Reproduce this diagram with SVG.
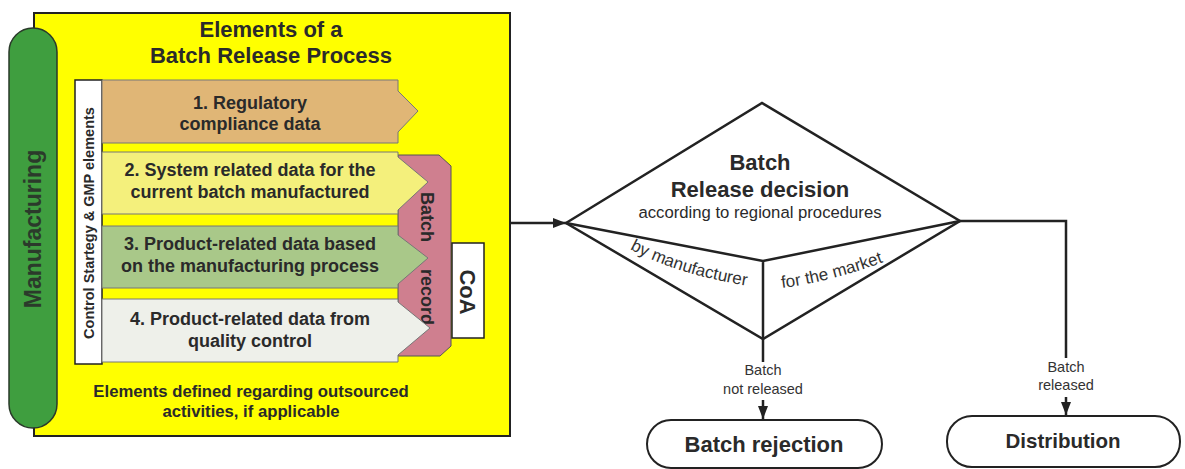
<svg xmlns="http://www.w3.org/2000/svg" width="1185" height="469" viewBox="0 0 1185 469">
<defs>
<style>
text{font-family:"Liberation Sans",Arial,sans-serif;fill:#2a2a2a}
.b{font-weight:bold}
.band{font-weight:bold;font-size:18px;text-anchor:middle}
.ln{fill:none;stroke:#222;stroke-width:2.5}
.sm{font-size:14.5px;text-anchor:middle;fill:#333}
.lbl{font-size:17px;fill:#333}
</style>
<marker id="ah" viewBox="0 0 13 10" refX="13" refY="5" markerWidth="13" markerHeight="10" markerUnits="userSpaceOnUse" orient="auto">
<path d="M0,0 L13,5 L0,10 Z" fill="#222"/>
</marker>
<path id="p1" d="M630,249 Q680,276 756,287"/>
<path id="p2" d="M782,288 Q835,281 892,259"/>
</defs>
<rect width="1185" height="469" fill="#fff"/>

<g id="elements-box">
<rect x="34" y="13" width="476" height="423" fill="#ffff00" stroke="#222" stroke-width="2"/>
<text class="b" x="271" y="37" font-size="22" text-anchor="middle">Elements of a</text>
<text class="b" x="271" y="63" font-size="22" text-anchor="middle">Batch Release Process</text>
<text class="b" x="251" y="397" font-size="16.7" text-anchor="middle">Elements defined regarding outsourced</text>
<text class="b" x="251" y="417" font-size="16.7" text-anchor="middle">activities, if applicable</text>
</g>

<g id="manufacturing">
<rect x="9" y="28" width="48" height="400" rx="24" fill="#3f9e3f" stroke="#2a3a2a" stroke-width="1.5"/>
<text class="b" transform="translate(33,229) rotate(-90)" font-size="23" text-anchor="middle" dy="8" style="fill:#2b3a2b">Manufacturing</text>
</g>

<g id="control-strategy">
<rect x="75" y="80" width="27" height="284" fill="#fff" stroke="#222" stroke-width="1.5"/>
<text class="b" transform="translate(89,223) rotate(-90)" font-size="14.5" text-anchor="middle" dy="5.2">Control Startegy &amp; GMP elements</text>
</g>

<g id="batch-record">
<path d="M398,155 H439 L451,166 V346 L440,356 H398 Z" fill="#cf7f8f" stroke="#555" stroke-width="1"/>
<text class="b" transform="translate(427,258.5) rotate(90)" font-size="18" text-anchor="middle" dy="6.5" word-spacing="22">Batch record</text>
</g>

<g id="coa">
<rect x="452" y="243" width="32" height="95" fill="#fff" stroke="#222" stroke-width="1.5"/>
<text class="b" transform="translate(468,292) rotate(90)" font-size="22" text-anchor="middle" dy="8">CoA</text>
</g>

<g id="band1">
<path d="M102,80 H398 V91 L418,111 L398,132 V143 H102 Z" fill="#e0b676" stroke="#777" stroke-width="1"/>
<text class="band" x="250" y="109">1. Regulatory</text>
<text class="band" x="250" y="130">compliance data</text>
</g>
<g id="band2">
<path d="M102,152 H398 V157 L428,182 L398,210 V214 H102 Z" fill="#f4f07c" stroke="#777" stroke-width="1"/>
<text class="band" x="250" y="176">2. System related data for the</text>
<text class="band" x="250" y="198">current batch manufactured</text>
</g>
<g id="band3">
<path d="M102,226 H398 V235 L428,258 L398,284 V288 H102 Z" fill="#a9c889" stroke="#777" stroke-width="1"/>
<text class="band" x="250" y="250">3. Product-related data based</text>
<text class="band" x="250" y="272">on the manufacturing process</text>
</g>
<g id="band4">
<path d="M102,299 H398 V302 L430,328 L398,355 V362 H102 Z" fill="#eef0ea" stroke="#777" stroke-width="1"/>
<text class="band" x="250" y="325">4. Product-related data from</text>
<text class="band" x="250" y="347">quality control</text>
</g>

<g id="decision">
<path class="ln" d="M566,223 L762,103 L960,221 L763,339 Z"/>
<path class="ln" d="M566,223 L763,261 L960,221 M763,261 V339"/>
<text class="b" x="760" y="170" font-size="22" text-anchor="middle">Batch</text>
<text class="b" x="760" y="197" font-size="22" text-anchor="middle">Release decision</text>
<text x="760" y="218" font-size="16.7" text-anchor="middle">according to regional procedures</text>
<text class="lbl"><textPath href="#p1">by manufacturer</textPath></text>
<text class="lbl"><textPath href="#p2">for the market</textPath></text>
</g>

<g id="rejection">
<rect x="647" y="420" width="235" height="48" rx="24" fill="#fff" stroke="#222" stroke-width="2"/>
<text class="b" x="764" y="452" font-size="22" text-anchor="middle">Batch rejection</text>
</g>

<g id="distribution">
<rect x="947" y="416" width="233" height="51" rx="25" fill="#fff" stroke="#222" stroke-width="2"/>
<text class="b" x="1063" y="448" font-size="20.5" text-anchor="middle">Distribution</text>
</g>

<g id="connectors">
<line class="ln" x1="511" y1="223" x2="566" y2="223" marker-end="url(#ah)"/>
<line class="ln" x1="763" y1="339" x2="763" y2="362"/>
<line class="ln" x1="763" y1="400" x2="763" y2="419" marker-end="url(#ah)"/>
<polyline class="ln" points="960,221 1066,221 1066,358"/>
<line class="ln" x1="1066" y1="397" x2="1066" y2="415" marker-end="url(#ah)"/>
<text class="sm" x="763" y="375">Batch</text>
<text class="sm" x="763" y="394">not released</text>
<text class="sm" x="1066" y="372">Batch</text>
<text class="sm" x="1066" y="390">released</text>
</g>
</svg>
